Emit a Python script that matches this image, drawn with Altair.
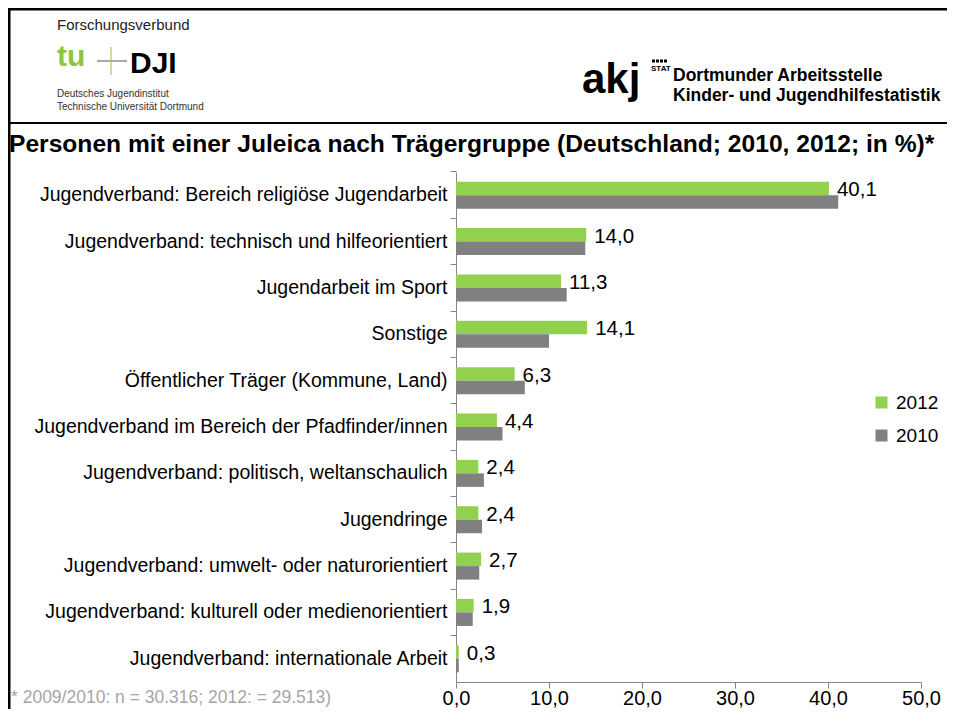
import altair as alt
import pandas as pd

categories = [
    "Jugendverband: Bereich religiöse Jugendarbeit",
    "Jugendverband: technisch und hilfeorientiert",
    "Jugendarbeit im Sport",
    "Sonstige",
    "Öffentlicher Träger (Kommune, Land)",
    "Jugendverband im Bereich der Pfadfinder/innen",
    "Jugendverband: politisch, weltanschaulich",
    "Jugendringe",
    "Jugendverband: umwelt- oder naturorientiert",
    "Jugendverband: kulturell oder medienorientiert",
    "Jugendverband: internationale Arbeit",
]
values_2012 = [40.1, 14.0, 11.3, 14.1, 6.3, 4.4, 2.4, 2.4, 2.7, 1.9, 0.3]
values_2010 = [41.1, 13.9, 11.9, 10.0, 7.4, 5.0, 3.0, 2.8, 2.5, 1.8, 0.3]
years = ["2012", "2010"]
colors = ["#92D050", "#808080"]
x_ticks = [0, 10, 20, 30, 40, 50]

rows = []
for c, v12, v10 in zip(categories, values_2012, values_2010):
    rows.append({"cat": c, "year": "2012", "v": v12})
    rows.append({"cat": c, "year": "2010", "v": v10})
df = pd.DataFrame(rows)

FONT = "Liberation Sans"
AX = "#868686"

x_enc = alt.X(
    "v:Q",
    scale=alt.Scale(domain=[0, 50], nice=False, zero=True),
    axis=alt.Axis(
        values=x_ticks, title=None, grid=False,
        labelExpr="replace(format(datum.value, '.1f'), '.', ',')",
        labelFontSize=20, labelColor="black", labelPadding=0,
        tickSize=6, tickColor=AX, domainColor=AX, labelFlush=False,
    ),
)
y_enc = alt.Y(
    "cat:N", sort=categories,
    scale=alt.Scale(paddingInner=0, paddingOuter=0),
    axis=alt.Axis(
        title=None, labelFontSize=19.5, labelColor="black", labelLimit=0,
        labelPadding=3, tickSize=6, tickColor=AX, domainColor=AX,
        bandPosition=0,
    ),
)

bars = alt.Chart(df).mark_bar().encode(
    x=x_enc,
    y=y_enc,
    yOffset=alt.YOffset("year:N", sort=years,
                        scale=alt.Scale(paddingOuter=0.717, paddingInner=0)),
    color=alt.Color(
        "year:N",
        scale=alt.Scale(domain=years, range=colors),
        legend=alt.Legend(
            title=None, orient="none", legendX=416, legendY=221, padding=0,
            symbolType="square", symbolSize=144, symbolStrokeWidth=0,
            labelFontSize=19, labelColor="black", labelOffset=5,
            rowPadding=13,
        ),
    ),
)

labels = alt.Chart(df).transform_filter(
    alt.datum.year == "2012"
).transform_calculate(
    lab="replace(format(datum.v, '.1f'), '.', ',')"
).mark_text(align="left", baseline="middle", dx=8, dy=-5, fontSize=20.5,
            color="black").encode(
    x=alt.X("v:Q"),
    y=alt.Y("cat:N", sort=categories),
    text="lab:N",
)

dummy = pd.DataFrame({"d": [0]})


def txt(s, x, y, size, color="black", weight="normal", align="left"):
    return alt.Chart(dummy).mark_text(
        align=align, baseline="alphabetic", fontSize=size, color=color,
        fontWeight=weight,
    ).encode(x=alt.value(x), y=alt.value(y), text=alt.value(s))


def hrule(x1, x2, y, width, color="black", dash=None):
    kw = dict(color=color, strokeWidth=width)
    if dash:
        kw["strokeDash"] = dash
    return alt.Chart(dummy).mark_rule(**kw).encode(
        x=alt.value(x1), x2=alt.value(x2), y=alt.value(y))


def vrule(x, y1, y2, width, color="black"):
    return alt.Chart(dummy).mark_rule(color=color, strokeWidth=width).encode(
        x=alt.value(x), y=alt.value(y1), y2=alt.value(y2))


deco = [
    hrule(-449, 499, -163, 3),
    vrule(-447, -164, 540, 3),
    hrule(-449, 499, -49, 2),
    txt("Forschungsverbund", -399, -142, 15, "#222222"),
    txt("tu", -399, -106, 30, "#8DC63F", "bold"),
    hrule(-359, -329, -111, 1, "#555555"),
    vrule(-345, -125, -97, 1, "#8DC63F"),
    txt("DJI", -326, -99, 30, "black", 900),
    txt("Deutsches Jugendinstitut", -399, -75, 10, "#333333"),
    txt("Technische Universität Dortmund", -399, -62, 10, "#333333"),
    txt("akj", 126, -79, 42, "black", "bold"),
    hrule(196, 211, -111, 3, "black", [3, 1]),
    txt("STAT", 195, -101, 8, "black", "bold"),
    txt("Dortmunder Arbeitsstelle", 217, -91, 17.5, "black", "bold"),
    txt("Kinder- und Jugendhilfestatistik", 217, -71, 17.5, "black", "bold"),
    txt("Personen mit einer Juleica nach Trägergruppe (Deutschland; 2010, 2012; in %)*",
        -447, -20, 24.6, "black", "bold"),
    txt("* 2009/2010: n = 30.316; 2012: = 29.513)", -445, 531, 17.5, "#A6A6A6"),
]

chart = alt.layer(bars, labels, *deco).properties(
    width=465, height=510,
    padding={"left": 448, "top": 164, "right": 26, "bottom": 27},
    autosize=alt.AutoSizeParams(type="none"),
).configure(font=FONT).configure_view(stroke=None)

chart.save("out.html", embed_options={"renderer": "svg", "actions": False})
